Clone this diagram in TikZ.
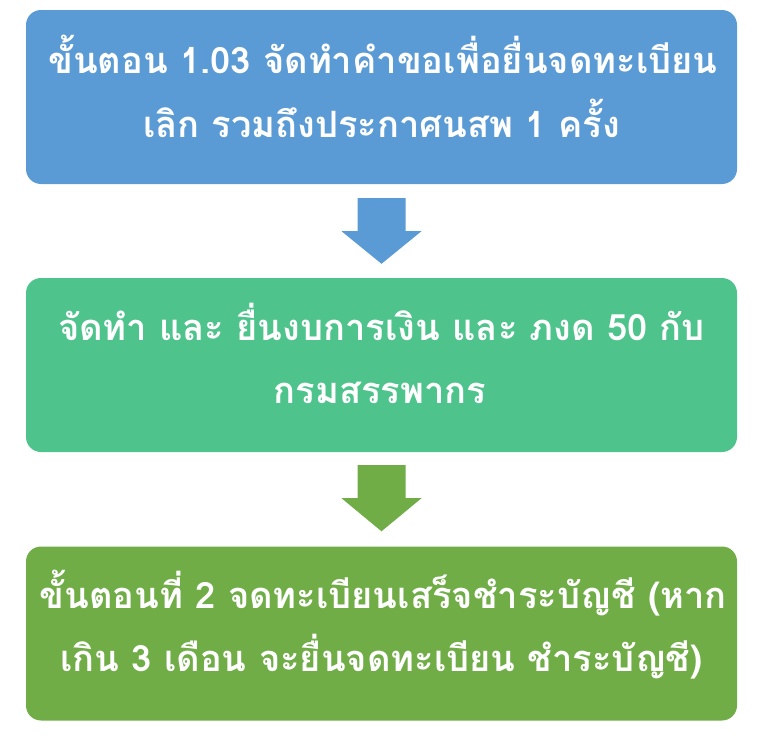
\documentclass[tikz,border=0pt]{standalone}
\usepackage{fontspec}
\setmainfont[Script=Thai]{Loma}
\definecolor{boxblue}{HTML}{5B9BD5}
\definecolor{boxteal}{HTML}{4EC48C}
\definecolor{boxgreen}{HTML}{70AD47}
\begin{document}
\begin{tikzpicture}[x=1pt,y=-1pt,
  stepbox/.style={rounded corners=15pt, minimum width=711pt, minimum height=174pt, inner sep=0pt},
  steptext/.style={text=white, font=\fontsize{36.3}{63}\selectfont\bfseries, anchor=base, inner sep=0pt},
]
\useasboundingbox (0,0) rectangle (772,736);
\node[stepbox, fill=boxblue] (b1) at (381.5,97) {};
\node[stepbox, fill=boxteal] (b2) at (381.5,365) {};
\node[stepbox, fill=boxgreen] (b3) at (381.5,633.5) {};
\node[steptext] (t1a) at (383,73.3) {ขั้นตอน 1.03 จัดทำคำขอเพื่อยื่นจดทะเบียน};
\node[steptext] (t1b) at (381.5,137.3) {เลิก รวมถึงประกาศนสพ 1 ครั้ง};
\node[steptext] (t2a) at (381.5,340) {จัดทำ และ ยื่นงบการเงิน และ ภงด 50 กับ};
\node[steptext] (t2b) at (380,403.3) {กรมสรรพากร};
\node[steptext] (t3a) at (383,608.3) {ขั้นตอนที่ 2 จดทะเบียนเสร็จชำระบัญชี (หาก};
\node[steptext] (t3b) at (381.5,671.7) {เกิน 3 เดือน จะยื่นจดทะเบียน ชำระบัญชี)};
\fill[boxblue] ([shift={(-24,14)}]b1.south) -- ++(48,0) -- ++(0,33) -- ++(16,0)
  -- ([shift={(0,-14)}]b2.north) -- ([shift={(-40,47)}]b1.south) -- ++(16,0) -- cycle;
\fill[boxgreen] ([shift={(-24,13)}]b2.south) -- ++(48,0) -- ++(0,33) -- ++(16,0)
  -- ([shift={(0,-15)}]b3.north) -- ([shift={(-40,46)}]b2.south) -- ++(16,0) -- cycle;
\end{tikzpicture}
\end{document}
